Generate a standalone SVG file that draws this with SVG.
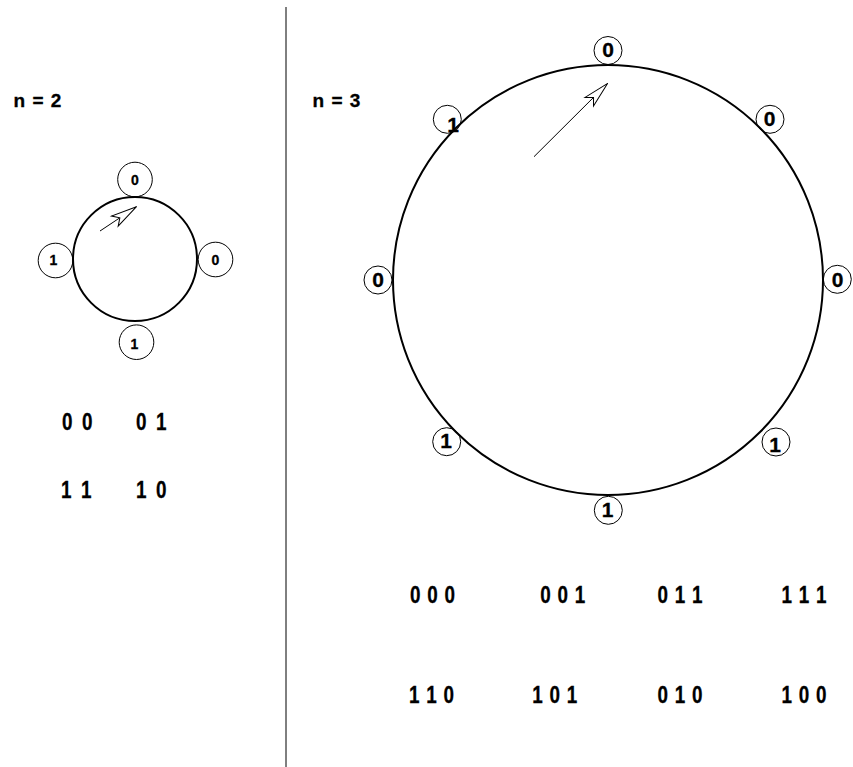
<svg xmlns="http://www.w3.org/2000/svg" width="853" height="767" viewBox="0 0 853 767">
<style>
.ring{fill:none;stroke:#000;stroke-width:2}
.bead{fill:none;stroke:#000;stroke-width:1}
.t{font-family:"Liberation Sans",Arial,Helvetica,sans-serif;font-weight:bold;fill:#000;stroke:#000;stroke-width:0.3px}
.sm{font-size:14px;text-anchor:middle}
.bg{font-size:21px;text-anchor:middle}
.hd{font-size:19px;letter-spacing:1px}
.w2{font-size:23px;letter-spacing:2.6px}
.w3{font-size:23px;letter-spacing:0.9px}
.arr{fill:none;stroke:#000;stroke-width:1}
</style>
<defs>
<marker id="dart" markerUnits="userSpaceOnUse" markerWidth="40" markerHeight="20" viewBox="-30 -10 40 20" refX="0" refY="0" orient="auto" overflow="visible">
<path d="M0,0 L-26,-6 L-20,0 L-26,6 Z" fill="#fff" stroke="#000" stroke-width="1" stroke-linejoin="miter"/>
</marker>
</defs>
<rect width="853" height="767" fill="#fff"/>
<line id="divider" x1="286" y1="7" x2="286" y2="767" stroke="#000" stroke-width="1"/>
<text class="t hd" x="13.5" y="106.5">n = 2</text>
<text class="t hd" x="312.5" y="106.5">n = 3</text>

<g id="ring2"><circle class="ring" cx="135" cy="259" r="62"/></g>
<g id="n2-top"><circle class="bead" cx="135" cy="179.5" r="17.3"/><text class="t sm" x="135" y="185">0</text></g>
<g id="n2-right"><circle class="bead" cx="215.5" cy="259.5" r="17.3"/><text class="t sm" x="215.5" y="264.5">0</text></g>
<g id="n2-bottom"><circle class="bead" cx="136.5" cy="342.2" r="17.3"/><text class="t sm" x="134.5" y="349">1</text></g>
<g id="n2-left"><circle class="bead" cx="55.5" cy="260.5" r="17.3"/><text class="t sm" x="53.5" y="264.5">1</text></g>

<g id="ring3"><circle class="ring" cx="608" cy="280" r="215"/></g>
<g id="n3-top"><circle class="bead" cx="608" cy="50.5" r="14"/><text class="t bg" x="608" y="57">0</text></g>
<g id="n3-topright"><circle class="bead" cx="770" cy="119.3" r="14"/><text class="t bg" x="769.5" y="126">0</text></g>
<g id="n3-right"><circle class="bead" cx="837.3" cy="279.3" r="14"/><text class="t bg" x="837.5" y="286.5">0</text></g>
<g id="n3-bottomright"><circle class="bead" cx="776" cy="442" r="14"/><text class="t bg" x="775" y="452">1</text></g>
<g id="n3-bottom"><circle class="bead" cx="608.3" cy="510.3" r="14"/><text class="t bg" x="607.5" y="517">1</text></g>
<g id="n3-bottomleft"><circle class="bead" cx="446.7" cy="441.7" r="14"/><text class="t bg" x="446" y="448">1</text></g>
<g id="n3-left"><circle class="bead" cx="378" cy="280" r="14"/><text class="t bg" x="378" y="287">0</text></g>
<g id="n3-topleft"><circle class="bead" cx="447.3" cy="119.3" r="14"/><text class="t bg" x="453" y="132">1</text></g>

<g id="connectors">
<line class="arr" x1="100" y1="231" x2="136.5" y2="206.7" marker-end="url(#dart)"/>
<line class="arr" x1="534" y1="156.7" x2="607.7" y2="83.3" marker-end="url(#dart)"/>
</g>

<g id="words2">
<text class="t w2" transform="translate(62,430) scale(0.82,1)">0 0</text>
<text class="t w2" transform="translate(136,430) scale(0.82,1)">0 1</text>
<text class="t w2" transform="translate(61,497.5) scale(0.82,1)">1 1</text>
<text class="t w2" transform="translate(136,497.5) scale(0.82,1)">1 0</text>
</g>
<g id="words3">
<text class="t w3" transform="translate(410,603.3) scale(0.82,1)">0 0 0</text>
<text class="t w3" transform="translate(540.3,603.3) scale(0.82,1)">0 0 1</text>
<text class="t w3" transform="translate(657.6,603.3) scale(0.82,1)">0 1 1</text>
<text class="t w3" transform="translate(781.6,603.3) scale(0.82,1)">1 1 1</text>
<text class="t w3" transform="translate(409,702.7) scale(0.82,1)">1 1 0</text>
<text class="t w3" transform="translate(532.3,702.7) scale(0.82,1)">1 0 1</text>
<text class="t w3" transform="translate(657.6,702.7) scale(0.82,1)">0 1 0</text>
<text class="t w3" transform="translate(781.6,702.7) scale(0.82,1)">1 0 0</text>
</g>
</svg>
